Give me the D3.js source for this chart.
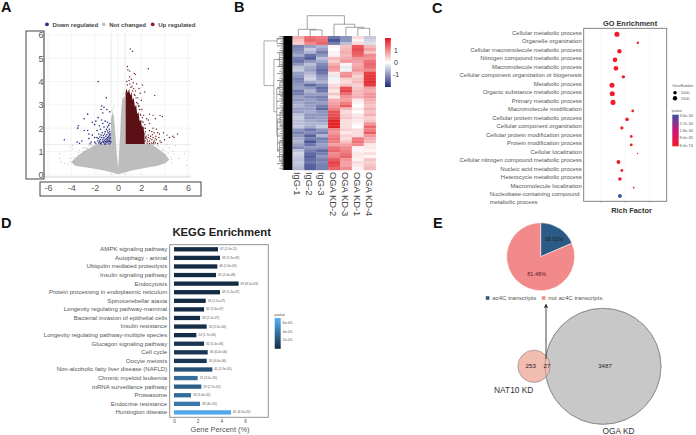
<!DOCTYPE html>
<html>
<head>
<meta charset="utf-8">
<style>
    body { margin: 0; background: #fff; }
    svg { display: block; font-family: "Liberation Sans", Arial, sans-serif; }
</style>
<script src="https://cdnjs.cloudflare.com/ajax/libs/d3/7.8.5/d3.min.js"></script>
</head>
<body>
<div id="chart"></div>
<script>
// ---- panel A: volcano
const volcanoXTicks = [-6, -4, -2, 0, 2, 4, 6];
const volcanoYTicks = [0, 1, 2, 3, 4, 5, 6];
const volcanoCutP = 1.3;
const volcanoCutFc = [-0.58, 0.62];
const notChangedOutline = [[0, 0.02], [-0.5, 0.09], [-1, 0.16], [-2, 0.26], [-3, 0.33], [-3.7, 0.38], [-4, 0.55], [-3.6, 0.75], [-3.2, 0.9], [-2.8, 1.05], [-2.4, 1.15], [-2, 1.27], [-1.9, 1.32], [-0.6, 1.32], [-0.6, 2.4], [-0.45, 2.7], [-0.35, 2.5], [-0.25, 1.9], [-0.15, 1.2], [-0.05, 0.6], [0, 0.3], [0.05, 0.6], [0.12, 1.2], [0.2, 1.9], [0.25, 2.6], [0.35, 3.2], [0.55, 3.4], [0.62, 3.2], [0.62, 1.32], [2.8, 1.32], [3.2, 1.2], [3.6, 1.05], [4, 0.9], [4.4, 0.65], [4.1, 0.5], [3.4, 0.38], [2.4, 0.3], [1.2, 0.18], [0.5, 0.08]];
const notChangedPoints = [[-5, 0.9], [-5, 0.7], [-4.9, 0.55], [-4.6, 0.5], [-4.3, 0.45], [-4.1, 0.7], [-3.9, 1.1], [-4.2, 1.2], [-3.9, 1.25], [-3, 1.15], [-3.4, 0.95], [5.7, 0.9], [5.9, 0.4], [5.2, 0.7], [4.8, 0.9], [4.6, 0.65], [4.7, 1], [4.4, 1.15], [4.9, 1.25], [4.2, 1.3], [-0.3, 2.95], [-0.5, 2.75], [3.4, 1.25], [3.8, 1.1], [-3.6, 0.6], [-2.7, 1.15], [-2.2, 1.25], [-3.4, 0.85], [-3, 1], [-2.6, 1.12], [-2.5, 1.25], [-3.8, 0.75], [-4.1, 0.55], [-3.3, 1.05], [-2.9, 1.15], [-2.3, 1.28], [3, 1.28], [3.3, 1.15], [3.7, 0.98], [4.1, 0.85], [4.3, 0.95], [4.5, 0.75], [4.6, 0.5], [3.9, 1.05], [3.5, 1.2], [3.1, 1.3], [-0.42, 2.85], [0.42, 3.45], [0.5, 3.55], [0.3, 3.3]];
const upDenseOutline = [[0.65, 1.32], [0.65, 3.5], [0.72, 3.7], [0.85, 3.5], [0.95, 3.7], [1.05, 3.4], [1.15, 3.55], [1.25, 3.2], [1.35, 3.3], [1.45, 2.9], [1.55, 3], [1.65, 2.6], [1.75, 2.7], [1.85, 2.3], [1.95, 2.35], [2.05, 2.05], [2.15, 2.1], [2.25, 1.8], [2.3, 1.32]];
const upPoints = [[1.05, 5.4], [1.25, 5.3], [2.6, 4.55], [0.8, 4.65], [0.85, 4.5], [1, 4.45], [1.4, 4.35], [1.5, 4.3], [1, 4.2], [0.75, 4], [1.15, 4.1], [1.3, 3.95], [1, 3.9], [1.6, 3.9], [2.1, 3.85], [1.2, 3.8], [1.5, 3.6], [1.8, 3.7], [2.3, 3.55], [1.9, 3.5], [3.15, 3.4], [2, 3.2], [1.7, 3.3], [1.45, 3.4], [1.6, 3.1], [1.8, 2.95], [2.05, 2.8], [1.9, 2.6], [2.2, 2.55], [2.05, 2.3], [2.3, 2.15], [2.2, 2.0], [2.35, 1.85], [3.6, 2.55], [3.8, 2.5], [2.7, 2.6], [3, 2.55], [3.2, 2.4], [2.6, 2.35], [2.7, 2.2], [2.45, 2.4], [3, 2], [3.3, 1.95], [3.9, 1.8], [4.2, 1.7], [4.7, 1.65], [5.1, 1.75], [4.8, 1.6], [4.4, 1.6], [3.4, 1.8], [2.7, 1.9], [2.9, 1.85], [3.1, 1.8], [2.6, 1.7], [2.8, 1.65], [3, 1.6], [3.25, 1.65], [3.5, 1.6], [2.5, 1.5], [2.7, 1.45], [2.9, 1.5], [3.1, 1.45], [3.3, 1.5], [3.6, 1.45], [2.5, 1.35], [2.7, 1.34], [2.85, 1.36], [3, 1.34], [3.2, 1.36], [3.4, 1.34], [3.7, 1.38], [2.6, 1.6], [2.4, 1.65], [2.95, 1.72], [3.2, 1.55], [2.55, 1.42], [2.75, 1.55], [3.05, 1.38], [3.55, 1.75], [4, 1.5], [2.35, 1.45], [2.4, 1.55], [0.8, 3.85], [0.95, 4.05], [1.1, 3.75], [1.25, 3.6], [1.35, 3.7], [1.4, 3.45], [1.55, 3.3], [1.7, 3.05], [1.85, 2.8], [1.75, 2.95], [1.95, 2.55], [2.1, 2.45], [2.15, 2.25], [2.35, 2], [2.3, 1.75], [2.38, 1.6]];
const downPoints = [[-1.7, 4], [-1, 3.3], [-1.4, 2.95], [-1.2, 2.9], [-1.45, 2.8], [-0.7, 2.7], [-2.6, 2.6], [-2.9, 2.4], [-1.3, 2.65], [-0.95, 2.8], [-1.9, 2.3], [-2.2, 2.25], [-1.7, 2.45], [-3.4, 2.1], [-3.45, 2], [-1.4, 2.35], [-1.1, 2.3], [-0.9, 2.25], [-1.3, 2.2], [-0.7, 2.2], [-1.6, 2.1], [-2, 2.15], [-2.6, 1.9], [-2.9, 1.9], [-2.5, 1.75], [-4.6, 1.5], [-3.1, 1.45], [-3.5, 1.4], [-3.3, 1.35], [-2.5, 1.55], [-2.2, 1.7], [-2, 1.6], [-2.3, 1.4], [-2, 1.4], [-2.4, 1.33], [-1.8, 1.9], [-1.5, 1.95], [-1.2, 2.05], [-0.9, 2.05], [-0.75, 1.95], [-1.65, 1.75], [-1.35, 1.8], [-1.1, 1.85], [-0.85, 1.8], [-0.65, 1.75], [-1.8, 1.6], [-1.55, 1.62], [-1.25, 1.68], [-1.05, 1.65], [-0.8, 1.65], [-0.65, 1.6], [-1.75, 1.45], [-1.5, 1.5], [-1.3, 1.52], [-1.1, 1.5], [-0.9, 1.52], [-0.7, 1.48], [-1.9, 1.35], [-1.65, 1.36], [-1.4, 1.38], [-1.2, 1.36], [-1, 1.38], [-0.85, 1.36], [-0.65, 1.36], [-1.55, 1.4], [-1.3, 1.44], [-1.05, 1.42], [-0.75, 1.42], [-1.2, 1.58], [-0.95, 1.72], [-0.7, 1.85], [-1, 1.95], [-1.45, 1.7], [-0.95, 1.46], [-1.15, 1.32], [-0.75, 1.32], [-1.45, 1.32], [-0.9, 1.6], [-0.7, 1.68], [-0.8, 2.12], [-1.6, 1.45], [-1.4, 1.6], [-1.15, 1.45], [-1, 1.55], [-0.8, 1.48], [-0.62, 1.42], [-1.25, 1.4], [-1.05, 1.32], [-0.88, 1.42], [-0.68, 1.54], [-0.78, 1.58], [-1.15, 1.75], [-0.9, 1.88], [-0.75, 1.75], [-1.5, 1.34], [-1.7, 1.55]];
const volcanoLegend = ["Down regulated", "Not changed", "Up regulated"];

// ---- panel B: heatmap
const heatmapSamples = ["IgG-1", "IgG-2", "IgG-3", "OGA KD-2", "OGA KD-3", "OGA KD-1", "OGA KD-4"];
const igg1 = [0.7, 0.5, 0.4, -1.2, -1.1, -1, -0.8, -1.2, -1.3, -1, -0.6, -0.5, -0.9, -1, -1.2, -1.1, -1, -0.9, -1.3, -1.2, -0.9, -1, -0.8, -0.7, -0.9, -0.9, -0.6, -0.5, -0.6, -0.6, -0.5, -1, -1.2, -1, -0.8, -0.7, -0.9, -1.1, -0.6, -0.4, -0.5, -0.6, -0.5, -0.6, -0.7];
const igg2 = [1.2, 1.3, 1, -0.9, -0.5, -0.7, -1.3, -1.5, -1, -0.6, -0.8, -0.9, -0.7, -0.5, -0.4, -0.8, -1.4, -1, -0.7, -0.9, -1.1, -0.9, -1, -0.9, -0.9, -0.8, -1, -1, -0.8, -0.7, -0.8, -1.3, -1.1, -1.5, -1.2, -1.6, -1.3, -1, -1.2, -1.4, -1.5, -1.4, -1.3, -1.5, -1.5];
const igg3 = [1.1, 1.2, 1.3, -0.7, -0.9, -1.2, -1, -0.6, -0.8, -1.1, -1.2, -1.4, -1.3, -1, -0.9, -0.7, -1.1, -1.4, -1.3, -0.9, -1.2, -1.1, -0.9, -1.2, -1.4, -1, -1, -0.9, -0.9, -0.7, -0.5, -1, -1.2, -0.7, -1.2, -1.1, -0.9, -1, -1.4, -1.2, -1, -1.2, -1.1, -1.2, -1.2];
const ogaKd2 = [-1.3, -1.6, -1.2, 0.1, 0, 0.1, 0.1, 0.6, 0.4, 0.7, 0.9, 0.8, 0.2, -0.2, -0.1, 0.1, 0.3, 0.4, 0.2, 0.5, 0.2, 0.7, 0.8, 0.9, 1.1, 1.5, 1.5, 1.6, 1.9, 1.9, 1.9, 1, 0.9, 1.1, 1.2, 1.1, 0.8, 1.2, 1.3, 1, 1.1, 1.4, 1.6, 1.5, 1.3];
const ogaKd3 = [-1, -1, -0.6, 0.5, 0.6, 0.7, 0.6, 0.7, 0.9, 0.1, -0.2, -0.1, 0.9, 1, 0.4, 0.3, 0.5, 1.5, 1.6, 1.2, 0.9, 0.8, 1.1, 1.4, 0.6, 0.3, 0.4, 0.5, 0.3, 0.3, 0.3, 0.4, 0.2, 0.4, 0.3, 0.5, 0.8, 1, 1.1, 1.2, 1.3, 0.9, 0.8, 0.8, 1];
const ogaKd1 = [0.3, 0.1, 0.3, 1.4, 1.5, 1.4, 1.3, 0.9, 0.8, 0.7, 0.8, 0.9, 0.6, 0.4, 0.5, 0.6, 0.4, 0.5, 0.6, 0.6, 0.7, 0.2, 0.1, 0, 0.2, 0, 0.2, 0.3, 0.2, 0.1, 0, 0.3, 0.3, 0.3, 1.1, 1.2, 1, 0.1, 0.1, 0.2, 0.2, 0.1, 0.3, 0.2, 0.1];
const ogaKd4 = [-0.5, -0.4, -0.3, 0.6, 0.8, 0.5, 1, 0.9, 1.2, 1.3, 1.2, 1, 1.6, 1.7, 1.7, 1.8, 1.7, 0.8, 0.7, 0.9, 0.9, 0.7, 0.6, 0.5, 0.7, 0.5, 0.7, 0.4, 0.5, 0.9, 1.3, 1.1, 1.4, 0.9, 0.7, 0.6, 0.2, 0.2, 0.1, 0.3, 0.1, 0.5, 0.4, 0.5, 0.6];
const heatmapColumns = [igg1, igg2, igg3, ogaKd2, ogaKd3, ogaKd1, ogaKd4];
const heatmapLegendTicks = [1, 0, -1];
// [merge height, left, right]; a leaf of the row tree is a number of genes in a tight cluster
const columnTree = [10, [3.3, "IgG-1", [3, "IgG-2", "IgG-3"]], [5.8, "OGA KD-2", [4.3, "OGA KD-3", [3.8, "OGA KD-1", "OGA KD-4"]]]];
const rowTree = [10, [5.4, 4, 5], [6.5, [4.5, [3.2, 5, 6], [3.3, 6, 7]], [5.5, [4.4, [3.2, 7, 5], [3.4, 6, 8]], [5.2, [4.3, [3.3, 7, 6], [3.1, 5, 7]], [4.5, [3.4, 8, 6], [3.5, [3, 5, 6], 7]]]]]];
const rowLeafReach = [3.4, 4.6, 3.8, 5.4, 3.6, 4.2];

// ---- panel C: GO enrichment
const goTerms = ["Cellular metabolic process", "Organelle organization", "Cellular macromolecule metabolic process", "Nitrogen compound metabolic process", "Macromolecule metabolic process", "Cellular component organization or biogenesis", "Metabolic process", "Organic substance metabolic process", "Primary metabolic process", "Macromolecule modification", "Cellular protein metabolic process", "Cellular component organization", "Cellular protein modification process", "Protein modification process", "Cellular localization", "Cellular nitrogen compound metabolic process", "Nucleic acid metabolic process", "Heterocycle metabolic process", "Macromolecule localization", "Nucleobase-containing compound metabolic process"];
const goRichFactor = [0.366, 0.451, 0.376, 0.358, 0.362, 0.392, 0.346, 0.347, 0.35, 0.43, 0.407, 0.386, 0.424, 0.424, 0.45, 0.372, 0.386, 0.378, 0.434, 0.378];
const goGeneNumber = [2000, 430, 1500, 1700, 1700, 900, 1950, 1950, 1950, 550, 1000, 800, 600, 600, 150, 1200, 600, 1000, 250, 1200];
const goPvalue = [8e-74, 1e-50, 2e-70, 1e-72, 1e-72, 1e-45, 8e-74, 8e-74, 8e-74, 1e-40, 1e-50, 2e-36, 3e-38, 3e-38, 1e-36, 1e-35, 2e-35, 3e-35, 1.5e-34, 3.6e-34];
const goRichTicks = [0.3, 0.4, 0.5];
const goSizeLegend = [1000, 1500];
const goPvalueTicks = [3.6e-34, 2.7e-34, 1.8e-34, 9e-35, 8e-74];
const goPvalueLabels = ["3.6e-34", "2.7e-34", "1.8e-34", "9.0e-35", "8.0e-74"];

// ---- panel D: KEGG enrichment
const keggTerms = ["AMPK signaling pathway", "Autophagy - animal", "Ubiquitin mediated proteolysis", "Insulin signaling pathway", "Endocytosis", "Protein processing in endoplasmic reticulum", "Spinocerebellar ataxia", "Longevity regulating pathway-mammal", "Bacterial invasion of epithelial cells", "Insulin resistance", "Longevity regulating pathway-multiple species", "Glucagon signaling pathway", "Cell cycle", "Oocyte meiosis", "Non-alcoholic fatty liver disease (NAFLD)", "Chronic myeloid leukemia", "mRNA surveillance pathway", "Proteasome", "Endocrine resistance", "Huntington disease"];
const keggPercent = [3.72, 3.89, 3.66, 3.55, 5.46, 3.89, 2.68, 2.54, 2.2, 2.76, 1.89, 2.54, 2.85, 2.76, 3.24, 2, 2.31, 1.44, 2.2, 4.82];
const keggCount = [47, 49, 46, 45, 69, 49, 34, 32, 28, 35, 24, 32, 36, 35, 41, 25, 29, 18, 28, 61];
const keggPvalue = [2e-11, 2.3e-9, 1.6e-9, 2e-8, 8.5e-9, 1.2e-7, 1.5e-7, 2.6e-7, 2.1e-7, 2.2e-6, 1.7e-6, 5.4e-6, 6.4e-6, 6e-6, 1.9e-5, 3.5e-5, 2.7e-5, 3.4e-5, 4e-5, 6.5e-5];
const keggPercentTicks = [0, 2, 4, 6];
const keggLegendTicks = [6e-5, 4e-5, 2e-5];
const keggLegendLabels = ["6e-05", "4e-05", "2e-05"];

// ---- panel E: pie and venn
const pieLabels = ["ac4C transcripts", "not ac4C transcripts"];
const pieValues = [18.52, 81.48];
const pieColors = ["#2b5a84", "#f28a8c"];
const vennOnlyNat10 = 253;
const vennShared = 27;
const vennOnlyOga = 3487;

const svg = d3.select("#chart").append("svg")
    .attr("width", 696)
    .attr("height", 435);

function label(parent, x, y, text, size, opts) {
    const o = opts || {};
    return parent.append("text")
        .attr("x", x)
        .attr("y", y)
        .attr("text-anchor", o.anchor || "start")
        .attr("font-size", size)
        .attr("font-weight", o.weight || "normal")
        .attr("fill", o.fill || "#444")
        .text(text);
}

[["A", 1, 12], ["B", 234, 12], ["C", 432, 13], ["D", 1, 228], ["E", 433, 228]].forEach(function (d) {
    label(svg, d[1], d[2], d[0], 14.5, { weight: "bold", fill: "#111" });
});

// ---------------- A
function drawVolcano() {
    const g = svg.append("g");
    const x = d3.scaleLinear().domain([-6, 6]).range([48, 188]);
    const y = d3.scaleLinear().domain([0, 6]).range([174.7, 35]);

    g.append("g").selectAll("line").data(volcanoXTicks).enter().append("line")
        .attr("x1", x).attr("x2", x).attr("y1", 33).attr("y2", 177)
        .attr("stroke", "#ececec").attr("stroke-width", 0.6);
    g.append("g").selectAll("line").data(volcanoYTicks).enter().append("line")
        .attr("x1", 44).attr("x2", 191).attr("y1", y).attr("y2", y)
        .attr("stroke", "#ececec").attr("stroke-width", 0.6);
    g.selectAll(".cutFc").data(volcanoCutFc).enter().append("line")
        .attr("class", "cutFc")
        .attr("x1", x).attr("x2", x).attr("y1", 33).attr("y2", 177)
        .attr("stroke", "#dcdcdc").attr("stroke-width", 0.6);
    g.append("line")
        .attr("x1", 44).attr("x2", 191)
        .attr("y1", y(volcanoCutP)).attr("y2", y(volcanoCutP))
        .attr("stroke", "#dcdcdc").attr("stroke-width", 0.6);
    g.append("path")
        .attr("d", "M44,33V177H191")
        .attr("fill", "none").attr("stroke", "#c4c4c4").attr("stroke-width", 0.7);

    const outline = d3.line().x(function (d) { return x(d[0]); }).y(function (d) { return y(d[1]); }).curve(d3.curveLinearClosed);
    g.append("path").attr("d", outline(notChangedOutline)).attr("fill", "#bdbdbd");
    g.selectAll(".nc").data(notChangedPoints).enter().append("circle")
        .attr("class", "nc")
        .attr("cx", function (d) { return x(d[0]); }).attr("cy", function (d) { return y(d[1]); })
        .attr("r", 0.6).attr("fill", "#bdbdbd");
    g.append("path").attr("d", outline(upDenseOutline)).attr("fill", "#5a1014");
    g.selectAll(".up").data(upPoints).enter().append("circle")
        .attr("class", "up")
        .attr("cx", function (d) { return x(d[0]); }).attr("cy", function (d) { return y(d[1]); })
        .attr("r", 0.7).attr("fill", "#6a1a20");
    g.selectAll(".down").data(downPoints).enter().append("circle")
        .attr("class", "down")
        .attr("cx", function (d) { return x(d[0]); }).attr("cy", function (d) { return y(d[1]); })
        .attr("r", 0.8).attr("fill", "#2a2f82");

    // the boxes drawn round the axes in the figure
    g.append("rect").attr("x", 26).attr("y", 31).attr("width", 18).attr("height", 148)
        .attr("fill", "none").attr("stroke", "#444").attr("stroke-width", 1);
    g.append("rect").attr("x", 40).attr("y", 182).attr("width", 161).attr("height", 14)
        .attr("fill", "none").attr("stroke", "#444").attr("stroke-width", 1);

    const yAxis = g.append("g").attr("transform", "translate(43.5,0)")
        .call(d3.axisLeft(y).tickValues(volcanoYTicks).tickSize(0).tickPadding(0).tickFormat(d3.format("d")));
    yAxis.select(".domain").remove();
    yAxis.selectAll("text").attr("font-size", 9).attr("fill", "#555").attr("font-family", "inherit");
    const xAxis = g.append("g").attr("transform", "translate(0,182)")
        .call(d3.axisBottom(x).tickValues(volcanoXTicks).tickSize(0).tickPadding(3).tickFormat(function (d) { return d < 0 ? "-" + Math.abs(d) : d; }));
    xAxis.select(".domain").remove();
    xAxis.selectAll("text").attr("font-size", 9).attr("fill", "#555").attr("font-family", "inherit");

    const legendColors = ["#2a2f82", "#c2c2c2", "#8e1c24"];
    const legendX = d3.scaleOrdinal().domain(volcanoLegend).range([47, 103.7, 152.7]);
    volcanoLegend.forEach(function (name, i) {
        g.append("circle").attr("cx", legendX(name)).attr("cy", 24.3).attr("r", 1.9).attr("fill", legendColors[i]);
        label(g, legendX(name) + 5.5, 26.5, name, 6.1, { weight: "bold", fill: "#444" });
    });
}

// ---------------- B
function drawHeatmap() {
    const g = svg.append("g");
    const rowCount = igg1.length;
    const x = d3.scaleBand().domain(heatmapSamples).range([292.3, 375.7]);
    const y = d3.scaleBand().domain(d3.range(rowCount)).range([36, 170]);
    const color = d3.scaleLinear().domain([-2, 0, 2]).range(["#1c2a7c", "#ffffff", "#e0141c"]);

    heatmapColumns.forEach(function (values, c) {
        g.append("g").selectAll("rect").data(values).enter().append("rect")
            .attr("x", x(heatmapSamples[c]))
            .attr("y", function (d, i) { return y(i); })
            .attr("width", x.bandwidth() + 0.2)
            .attr("height", y.bandwidth() + 0.2)
            .attr("fill", function (d) { return color(d); });
    });

    // column dendrogram
    const colH = d3.scaleLinear().domain([0, 10]).range([36, 15.7]);
    function drawColumnNode(node) {
        if (typeof node === "string") {
            return { x: x(node) + x.bandwidth() / 2, y: colH(0) };
        }
        const a = drawColumnNode(node[1]);
        const b = drawColumnNode(node[2]);
        const top = colH(node[0]);
        g.append("path")
            .attr("d", "M" + a.x + "," + a.y + "V" + top + "H" + b.x + "V" + b.y)
            .attr("fill", "none").attr("stroke", "#666").attr("stroke-width", 0.6);
        return { x: (a.x + b.x) / 2, y: top };
    }
    drawColumnNode(columnTree);

    // row dendrogram
    function countLeaves(node) {
        return typeof node === "number" ? node : countLeaves(node[1]) + countLeaves(node[2]);
    }
    const rowPos = d3.scaleLinear().domain([0, countLeaves(rowTree)]).range([36, 170]);
    const rowH = d3.scaleLinear().domain([0, 10]).range([292.3, 264]);
    let seen = 0;
    function drawRowNode(node) {
        if (typeof node === "number") {
            const ys = [];
            for (let i = 0; i < node; i++) {
                const yy = rowPos(seen + 0.5);
                seen += 1;
                ys.push(yy);
                g.append("line")
                    .attr("x1", rowH(rowLeafReach[seen % rowLeafReach.length])).attr("x2", rowH(0))
                    .attr("y1", yy).attr("y2", yy)
                    .attr("stroke", "#333").attr("stroke-width", 0.55);
            }
            const reach = rowH(3);
            g.append("path")
                .attr("d", "M" + reach + "," + ys[0] + "V" + ys[ys.length - 1])
                .attr("fill", "none").attr("stroke", "#555").attr("stroke-width", 0.5);
            return { x: reach, y: d3.mean(ys) };
        }
        const a = drawRowNode(node[1]);
        const b = drawRowNode(node[2]);
        const left = rowH(node[0]);
        g.append("path")
            .attr("d", "M" + a.x + "," + a.y + "H" + left + "V" + b.y + "H" + b.x)
            .attr("fill", "none").attr("stroke", "#666").attr("stroke-width", 0.55);
        return { x: left, y: (a.y + b.y) / 2 };
    }
    drawRowNode(rowTree);
    // the leaves are so tight that they print as a solid band
    g.append("rect")
        .attr("x", rowH(3.1)).attr("y", 36).attr("width", rowH(0) - rowH(3.1)).attr("height", 134)
        .attr("fill", "#000");

    heatmapSamples.forEach(function (name) {
        const cx = x(name) + x.bandwidth() / 2;
        g.append("text")
            .attr("transform", "translate(" + (cx - 4) + ",172) rotate(90)")
            .attr("font-size", 9.4).attr("fill", "#444")
            .text(name);
    });

    // colour key
    const key = d3.scaleLinear().domain([-2, 2.05]).range([87, 38]);
    const grad = svg.append("defs").append("linearGradient").attr("id", "heatKey")
        .attr("x1", 0).attr("x2", 0).attr("y1", 1).attr("y2", 0);
    [-2, -1, 0, 1, 2].forEach(function (v, i) {
        grad.append("stop").attr("offset", (i * 25) + "%").attr("stop-color", color(v));
    });
    g.append("rect").attr("x", 385).attr("y", 38).attr("width", 5.8).attr("height", 49).attr("fill", "url(#heatKey)");
    heatmapLegendTicks.forEach(function (t) {
        label(g, t < 0 ? 392.8 : 394, key(t) + 2.5, t < 0 ? "-" + Math.abs(t) : t, 7, { fill: "#333" });
    });
}

// ---------------- C
function drawGo() {
    const g = svg.append("g");
    const x = d3.scaleLinear().domain([0.231, 0.568]).range([583.7, 666.7]);
    const y = d3.scaleBand().domain(goTerms).range([30, 200.3]);
    const size = d3.scaleSqrt().domain([0, 1500]).range([0, 2.2]);
    const color = d3.scaleLinear().domain([8e-74, 1.8e-34, 3.6e-34]).range(["#f21a2b", "#c8167a", "#3b53a4"]);

    g.selectAll(".grid").data(goRichTicks).enter().append("line")
        .attr("class", "grid")
        .attr("x1", x).attr("x2", x).attr("y1", 28.3).attr("y2", 201.3)
        .attr("stroke", "#f0f0f0").attr("stroke-width", 0.5);
    g.selectAll(".tick-x").data(goRichTicks).enter().append("line")
        .attr("class", "tick-x")
        .attr("x1", x).attr("x2", x).attr("y1", 201.3).attr("y2", 202.6)
        .attr("stroke", "#777").attr("stroke-width", 0.5);
    g.append("rect").attr("x", 583.7).attr("y", 28.3).attr("width", 83).attr("height", 173)
        .attr("fill", "none").attr("stroke", "#777").attr("stroke-width", 0.9);

    g.selectAll(".bubble").data(goTerms).enter().append("circle")
        .attr("class", "bubble")
        .attr("cx", function (d, i) { return x(goRichFactor[i]); })
        .attr("cy", function (d) { return y(d) + y.bandwidth() / 2; })
        .attr("r", function (d, i) { return size(goGeneNumber[i]); })
        .attr("fill", function (d, i) { return color(goPvalue[i]); });

    const axis = g.append("g").attr("transform", "translate(583.7,-1.6)")
        .call(d3.axisLeft(y).tickSize(1).tickPadding(1).tickSizeOuter(0));
    axis.select(".domain").remove();
    axis.selectAll("line").attr("stroke", "#999").attr("stroke-width", 0.4);
    axis.selectAll("text").attr("font-size", 5.95).attr("fill", "#555").attr("font-family", "inherit");
    // last term wraps over two lines, left aligned
    const last = axis.selectAll(".tick").filter(function (d) { return d === goTerms[goTerms.length - 1]; }).select("text");
    last.text(null).attr("text-anchor", "start");
    last.append("tspan").attr("x", -94).attr("dy", "0.32em").text("Nucleobase-containing compound");
    last.append("tspan").attr("x", -94).attr("dy", "1.22em").text("metabolic process");

    label(g, 630, 26, "GO Enrichment", 7.4, { anchor: "middle", weight: "bold", fill: "#333" });
    label(g, 631.5, 212.5, "Rich Factor", 7.4, { anchor: "middle", weight: "bold", fill: "#333" });

    // legends
    label(g, 672.3, 87, "GeneNumber", 3.5, { fill: "#555" });
    goSizeLegend.forEach(function (v, i) {
        const cy = 92.7 + i * 5.6;
        g.append("circle").attr("cx", 675).attr("cy", cy).attr("r", size(v)).attr("fill", "#000");
        label(g, 680.7, cy + 1.4, v, 4, { fill: "#555" });
    });
    label(g, 671.7, 112, "pvalue", 3.5, { fill: "#555" });
    const key = d3.scaleLinear().domain([0, 3.6e-34]).range([145.3, 115.7]);
    const grad = svg.append("defs").append("linearGradient").attr("id", "goKey")
        .attr("x1", 0).attr("x2", 0).attr("y1", 1).attr("y2", 0);
    [8e-74, 1.8e-34, 3.6e-34].forEach(function (v, i) {
        grad.append("stop").attr("offset", (i * 50) + "%").attr("stop-color", color(v));
    });
    g.append("rect").attr("x", 672.3).attr("y", 114.7).attr("width", 6.4).attr("height", 31.6).attr("fill", "url(#goKey)");
    goPvalueTicks.forEach(function (t, i) {
        label(g, 679.6, key(t) + 1.4, goPvalueLabels[i], 3.9, { fill: "#555" });
    });
}

// ---------------- D
function drawKegg() {
    const g = svg.append("g");
    const x = d3.scaleLinear().domain([0, 6]).range([174, 245]);
    const y = d3.scaleBand().domain(keggTerms).range([245, 416.7]).paddingInner(0.5).paddingOuter(0.25);
    const color = d3.scaleLinear().domain([0, 7e-5]).range(["#132b43", "#56b1f7"]);

    g.selectAll(".bar").data(keggTerms).enter().append("rect")
        .attr("class", "bar")
        .attr("x", x(0))
        .attr("y", function (d) { return y(d); })
        .attr("width", function (d, i) { return x(keggPercent[i]) - x(0); })
        .attr("height", y.bandwidth())
        .attr("fill", function (d, i) { return color(keggPvalue[i]); });
    g.selectAll(".barText").data(keggTerms).enter().append("text")
        .attr("class", "barText")
        .attr("x", function (d, i) { return x(keggPercent[i]) + 2; })
        .attr("y", function (d) { return y(d) + y.bandwidth() / 2 + 1; })
        .attr("font-size", 3.2).attr("fill", "#555")
        .text(function (d, i) {
            const p = keggPvalue[i];
            const s = p === 4e-5 ? "4e-05" : d3.format(".1e")(p).replace(/e-(\d)$/, "e-0$1");
            return keggCount[i] + " (" + s + ")";
        });

    g.append("rect").attr("x", 169.7).attr("y", 244.7).attr("width", 98.6).attr("height", 172.6)
        .attr("fill", "none").attr("stroke", "#888").attr("stroke-width", 0.9);

    const yAxis = g.append("g").attr("transform", "translate(169.7,0)")
        .call(d3.axisLeft(y).tickSize(1).tickPadding(1.5).tickSizeOuter(0));
    yAxis.select(".domain").remove();
    yAxis.selectAll("line").attr("stroke", "#999").attr("stroke-width", 0.4);
    yAxis.selectAll("text").attr("font-size", 6.05).attr("fill", "#555").attr("font-family", "inherit");
    const xAxis = g.append("g").attr("transform", "translate(0,417.3)")
        .call(d3.axisBottom(x).tickValues(keggPercentTicks).tickSize(1.2).tickPadding(1).tickFormat(d3.format("d")));
    xAxis.select(".domain").remove();
    xAxis.selectAll("line").attr("stroke", "#888").attr("stroke-width", 0.4);
    xAxis.selectAll("text").attr("font-size", 4.8).attr("fill", "#555").attr("font-family", "inherit");

    label(g, 221.7, 235.5, "KEGG Enrichment", 11.3, { anchor: "middle", weight: "bold", fill: "#222" });
    label(g, 220, 432, "Gene Percent (%)", 7.4, { anchor: "middle", fill: "#555" });

    const key = d3.scaleLinear().domain([0, 7e-5]).range([348.8, 318]);
    const grad = svg.append("defs").append("linearGradient").attr("id", "keggKey")
        .attr("x1", 0).attr("x2", 0).attr("y1", 1).attr("y2", 0);
    [0, 7e-5].forEach(function (v, i) {
        grad.append("stop").attr("offset", (i * 100) + "%").attr("stop-color", color(v));
    });
    g.append("rect").attr("x", 274.7).attr("y", 318).attr("width", 6).attr("height", 30.8).attr("fill", "url(#keggKey)");
    label(g, 274.5, 316, "pvalue", 3.6, { fill: "#555" });
    keggLegendTicks.forEach(function (t, i) {
        label(g, 282.5, key(t) + 1.4, keggLegendLabels[i], 3.9, { fill: "#555" });
    });
}

// ---------------- E
function drawPieVenn() {
    const g = svg.append("g");
    const pie = d3.pie().sort(null);
    const arc = d3.arc().innerRadius(0).outerRadius(34);
    const pieG = g.append("g").attr("transform", "translate(540.7,256.7)");
    pieG.selectAll("path").data(pie(pieValues)).enter().append("path")
        .attr("d", arc)
        .attr("fill", function (d, i) { return pieColors[i]; })
        .attr("stroke", "#fff").attr("stroke-width", 0.5);
    label(g, 554, 240.6, pieValues[0].toFixed(2) + "%", 5.6, { anchor: "middle", fill: "#222" });
    label(g, 536.7, 276, pieValues[1].toFixed(2) + "%", 5.6, { anchor: "middle", fill: "#622" });

    [[485.8, 492.3], [541.8, 548.3]].forEach(function (p, i) {
        g.append("rect").attr("x", p[0]).attr("y", 296.2).attr("width", 3.6).attr("height", 3.6).attr("fill", pieColors[i]);
        label(g, p[1], 300.2, pieLabels[i], 6.1, { fill: "#555" });
    });

    const r = d3.scaleSqrt().domain([0, vennOnlyNat10 + vennShared + vennOnlyOga]).range([0, 58]);
    const rSmall = r(vennOnlyNat10 + vennShared) * 1.02;
    const rBig = r(vennOnlyNat10 + vennShared + vennOnlyOga);
    const cy = 366.3;
    g.append("circle").attr("cx", 603).attr("cy", cy).attr("r", rBig)
        .attr("fill", "#c8c8c8").attr("stroke", "#777").attr("stroke-width", 0.6);
    g.append("circle").attr("cx", 534).attr("cy", cy).attr("r", rSmall)
        .attr("fill", "#f0bdb0").attr("stroke", "#8a7a76").attr("stroke-width", 0.6);
    g.append("circle").attr("cx", 603).attr("cy", cy).attr("r", rBig)
        .attr("fill", "none").attr("stroke", "#8a8a8a").attr("stroke-width", 0.6);

    g.append("defs").append("marker")
        .attr("id", "arrowHead").attr("viewBox", "0 0 6 6").attr("refX", 5).attr("refY", 3)
        .attr("markerWidth", 5).attr("markerHeight", 5).attr("orient", "auto")
        .append("path").attr("d", "M0,0L6,3L0,6L1.6,3Z").attr("fill", "#222");
    g.append("line").attr("x1", 546).attr("x2", 546).attr("y1", 359).attr("y2", 304.5)
        .attr("stroke", "#333").attr("stroke-width", 0.9).attr("marker-end", "url(#arrowHead)");

    label(g, 530.7, 368.3, vennOnlyNat10, 6.1, { anchor: "middle", fill: "#222" });
    label(g, 547, 368.3, vennShared, 6.1, { anchor: "middle", fill: "#222" });
    label(g, 605, 368.3, vennOnlyOga, 6.1, { anchor: "middle", fill: "#222" });
    label(g, 494, 392.7, "NAT10 KD", 8.4, { fill: "#333" });
    label(g, 602.5, 434, "OGA KD", 8.4, { fill: "#333" });
}

drawVolcano();
drawHeatmap();
drawGo();
drawKegg();
drawPieVenn();
</script>
</body>
</html>
